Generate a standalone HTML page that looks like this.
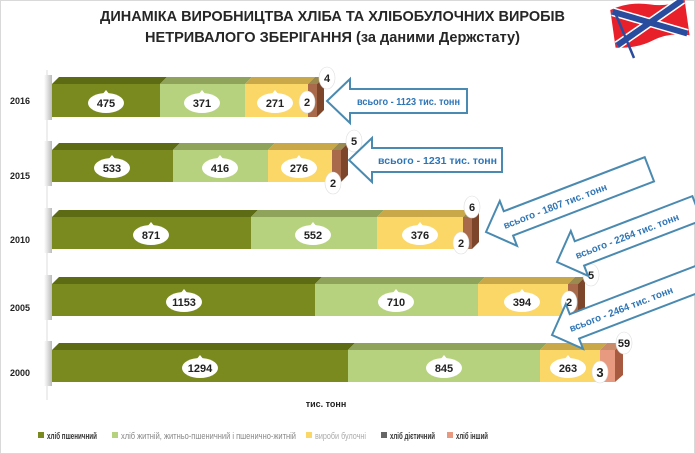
<!DOCTYPE html>
<html><head><meta charset="utf-8"><style>
html,body{margin:0;padding:0;background:#fff}
svg{display:block;font-family:"Liberation Sans",sans-serif}
</style></head><body>
<svg width="695" height="454" viewBox="0 0 695 454" xmlns="http://www.w3.org/2000/svg">
<defs>
<linearGradient id="sh" x1="0" x2="1"><stop offset="0" stop-color="#fff"/><stop offset="1" stop-color="#bbb"/></linearGradient>
<g id="bub"><path d="M-4,-8 L0,-13 L4,-8 Z" fill="#fff"/><ellipse rx="18" ry="10" fill="#fff"/></g>
<g id="sb"><ellipse rx="8" ry="11" fill="#fff" stroke="#ddd" stroke-width="0.6"/></g>
</defs>
<rect x="0.5" y="0.5" width="694" height="453" fill="#fff" stroke="#d9d9d9"/>
<text x="100" y="21" textLength="465" lengthAdjust="spacingAndGlyphs" font-size="15" font-weight="bold" fill="#262626">ДИНАМІКА ВИРОБНИЦТВА ХЛІБА ТА ХЛІБОБУЛОЧНИХ ВИРОБІВ</text>
<text x="145" y="42" textLength="375" lengthAdjust="spacingAndGlyphs" font-size="15" font-weight="bold" fill="#262626">НЕТРИВАЛОГО ЗБЕРІГАННЯ (за даними Держстату)</text>
<!-- flag -->
<g transform="translate(610,8) rotate(-8)">
<path d="M0,2 Q20,-4 40,2 T75,0 L75,38 Q55,32 38,38 T0,40 Z" fill="#e8202a"/>
<path d="M2,4 L73,36 M73,2 L2,38" stroke="#fff" stroke-width="9"/>
<path d="M2,4 L73,36 M73,2 L2,38" stroke="#2a4c9e" stroke-width="6"/>
</g>
<line x1="614" y1="10" x2="634" y2="58" stroke="#2a4c9e" stroke-width="2.5"/>
<line x1="47" y1="70" x2="47" y2="400" stroke="#ddd" stroke-width="1"/>
<g font-size="9" font-weight="bold" fill="#222" text-anchor="middle">
<text x="20" y="104">2016</text><text x="20" y="179">2015</text><text x="20" y="243">2010</text><text x="20" y="311">2005</text><text x="20" y="376">2000</text>
</g>
<g font-size="11" font-weight="bold" fill="#222" text-anchor="middle">
<rect x="44" y="75" width="8" height="45" fill="url(#sh)"/>
<polygon points="52,84 59,77 167,77 160,84" fill="#5d6b14"/>
<polygon points="160,84 167,77 252,77 245,84" fill="#8fa45a"/>
<polygon points="245,84 252,77 315,77 308,84" fill="#c9a84a"/>
<polygon points="308,84 315,77 324,77 317,84" fill="#9a8a50"/>
<rect x="52" y="84" width="108" height="33" fill="#7a8a1f"/>
<rect x="160" y="84" width="85" height="33" fill="#b7d27f"/>
<rect x="245" y="84" width="63" height="33" fill="#fad766"/>
<rect x="308" y="84" width="9" height="33" fill="#a86a4a"/>
<polygon points="317,84 324,77 324,110 317,117" fill="#7d4529"/>
<use href="#bub" x="106" y="103"/><text x="106" y="107">475</text>
<use href="#bub" x="202" y="103"/><text x="202" y="107">371</text>
<use href="#bub" x="275" y="103"/><text x="275" y="107">271</text>
<use href="#sb" x="307" y="102"/><text x="307" y="106">2</text>
<use href="#sb" x="327" y="78"/><text x="327" y="82">4</text>
<rect x="44" y="141" width="8" height="45" fill="url(#sh)"/>
<polygon points="52,150 59,143 180,143 173,150" fill="#5d6b14"/>
<polygon points="173,150 180,143 275,143 268,150" fill="#8fa45a"/>
<polygon points="268,150 275,143 339,143 332,150" fill="#c9a84a"/>
<polygon points="332,150 339,143 348,143 341,150" fill="#9a8a50"/>
<rect x="52" y="150" width="121" height="32" fill="#7a8a1f"/>
<rect x="173" y="150" width="95" height="32" fill="#b7d27f"/>
<rect x="268" y="150" width="64" height="32" fill="#fad766"/>
<rect x="332" y="150" width="9" height="32" fill="#a86a4a"/>
<polygon points="341,150 348,143 348,175 341,182" fill="#7d4529"/>
<use href="#bub" x="112" y="168"/><text x="112" y="172">533</text>
<use href="#bub" x="220" y="168"/><text x="220" y="172">416</text>
<use href="#bub" x="299" y="168"/><text x="299" y="172">276</text>
<use href="#sb" x="333" y="183"/><text x="333" y="187">2</text>
<use href="#sb" x="354" y="141"/><text x="354" y="145">5</text>
<rect x="44" y="208" width="8" height="45" fill="url(#sh)"/>
<polygon points="52,217 59,210 258,210 251,217" fill="#5d6b14"/>
<polygon points="251,217 258,210 384,210 377,217" fill="#8fa45a"/>
<polygon points="377,217 384,210 470,210 463,217" fill="#c9a84a"/>
<polygon points="463,217 470,210 479,210 472,217" fill="#9a8a50"/>
<rect x="52" y="217" width="199" height="32" fill="#7a8a1f"/>
<rect x="251" y="217" width="126" height="32" fill="#b7d27f"/>
<rect x="377" y="217" width="86" height="32" fill="#fad766"/>
<rect x="463" y="217" width="9" height="32" fill="#a86a4a"/>
<polygon points="472,217 479,210 479,242 472,249" fill="#7d4529"/>
<use href="#bub" x="151" y="235"/><text x="151" y="239">871</text>
<use href="#bub" x="313" y="235"/><text x="313" y="239">552</text>
<use href="#bub" x="420" y="235"/><text x="420" y="239">376</text>
<use href="#sb" x="461" y="243"/><text x="461" y="247">2</text>
<use href="#sb" x="472" y="207"/><text x="472" y="211">6</text>
<rect x="44" y="275" width="8" height="45" fill="url(#sh)"/>
<polygon points="52,284 59,277 322,277 315,284" fill="#5d6b14"/>
<polygon points="315,284 322,277 485,277 478,284" fill="#8fa45a"/>
<polygon points="478,284 485,277 575,277 568,284" fill="#c9a84a"/>
<polygon points="568,284 575,277 585,277 578,284" fill="#9a8a50"/>
<rect x="52" y="284" width="263" height="32" fill="#7a8a1f"/>
<rect x="315" y="284" width="163" height="32" fill="#b7d27f"/>
<rect x="478" y="284" width="90" height="32" fill="#fad766"/>
<rect x="568" y="284" width="10" height="32" fill="#a86a4a"/>
<polygon points="578,284 585,277 585,309 578,316" fill="#7d4529"/>
<use href="#bub" x="184" y="302"/><text x="184" y="306">1153</text>
<use href="#bub" x="396" y="302"/><text x="396" y="306">710</text>
<use href="#bub" x="522" y="302"/><text x="522" y="306">394</text>
<use href="#sb" x="569" y="302"/><text x="569" y="306">2</text>
<use href="#sb" x="591" y="275"/><text x="591" y="279">5</text>
<rect x="44" y="341" width="8" height="45" fill="url(#sh)"/>
<polygon points="52,350 59,343 355,343 348,350" fill="#5d6b14"/>
<polygon points="348,350 355,343 547,343 540,350" fill="#8fa45a"/>
<polygon points="540,350 547,343 607,343 600,350" fill="#c9a84a"/>
<polygon points="600,350 607,343 623,343 615,350" fill="#c98a6a"/>
<rect x="52" y="350" width="296" height="32" fill="#7a8a1f"/>
<rect x="348" y="350" width="192" height="32" fill="#b7d27f"/>
<rect x="540" y="350" width="60" height="32" fill="#fad766"/>
<rect x="600" y="350" width="15" height="32" fill="#e89a80"/>
<polygon points="615,350 623,343 623,375 615,382" fill="#a85a40"/>
<use href="#bub" x="200" y="368"/><text x="200" y="372">1294</text>
<use href="#bub" x="444" y="368"/><text x="444" y="372">845</text>
<use href="#bub" x="568" y="368"/><text x="568" y="372">263</text>
<use href="#sb" x="600" y="372"/><text x="600" y="377" font-size="13">3</text>
<use href="#sb" x="624" y="343"/><text x="624" y="347">59</text>
</g>
<g fill="#fff" stroke="#4a8ab0" stroke-width="2">
<path transform="translate(327,101)" d="M0,0 L23,-22 L23,-12 L140,-12 L140,12 L23,12 L23,22 Z"/>
<path transform="translate(349,160)" d="M0,0 L23,-22 L23,-12 L153,-12 L153,12 L23,12 L23,22 Z"/>
<path transform="translate(486,232) rotate(-21)" d="M0,0 L24,-24 L24,-13 L175,-13 L175,13 L24,13 L24,24 Z"/>
<path transform="translate(557,262) rotate(-21)" d="M0,0 L24,-24 L24,-13 L150,-13 L150,13 L24,13 L24,24 Z"/>
<path transform="translate(552,335) rotate(-21)" d="M0,0 L24,-24 L24,-13 L160,-13 L160,13 L24,13 L24,24 Z"/>
</g>
<g font-size="10" font-weight="bold" fill="#2e75b6">
<text x="357" y="105" textLength="103" lengthAdjust="spacingAndGlyphs">всього - 1123 тис. тонн</text>
<text x="378" y="164" textLength="119" lengthAdjust="spacingAndGlyphs">всього - 1231 тис. тонн</text>
<text transform="translate(505,229) rotate(-21)" textLength="110" lengthAdjust="spacingAndGlyphs">всього - 1807 тис. тонн</text>
<text transform="translate(577,259) rotate(-21)" textLength="110" lengthAdjust="spacingAndGlyphs">всього -  2264 тис. тонн</text>
<text transform="translate(571,332) rotate(-21)" textLength="110" lengthAdjust="spacingAndGlyphs">всього -  2464 тис. тонн</text>
</g>
<text x="326" y="407" text-anchor="middle" font-size="9" font-weight="bold" fill="#222">тис. тонн</text>
<g font-size="9.5" font-weight="bold">
<rect x="38" y="432" width="6" height="6" fill="#7a8a1f"/><text x="47" y="439" fill="#333" textLength="50" lengthAdjust="spacingAndGlyphs">хліб пшеничний</text>
<rect x="112" y="432" width="6" height="6" fill="#b7d27f"/><text x="121" y="439" fill="#888" font-weight="normal" textLength="175" lengthAdjust="spacingAndGlyphs">хліб житній, житньо-пшеничний і пшенично-житній</text>
<rect x="306" y="432" width="6" height="6" fill="#fad766"/><text x="315" y="439" fill="#aaa" font-weight="normal" textLength="51" lengthAdjust="spacingAndGlyphs">вироби булочні</text>
<rect x="381" y="432" width="6" height="6" fill="#666"/><text x="390" y="439" fill="#333" textLength="45" lengthAdjust="spacingAndGlyphs">хліб дієтичний</text>
<rect x="447" y="432" width="6" height="6" fill="#e89a80"/><text x="456" y="439" fill="#333" textLength="32" lengthAdjust="spacingAndGlyphs">хліб інший</text>
</g>
</svg>
</body></html>
